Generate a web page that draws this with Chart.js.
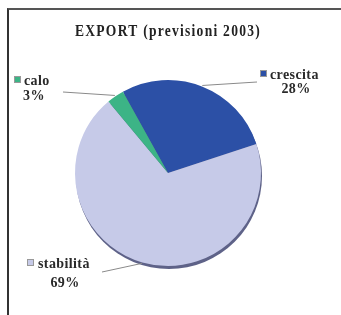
<!DOCTYPE html>
<html>
<head>
<meta charset="utf-8">
<script src="https://cdn.jsdelivr.net/npm/chart.js@4"></script>
<style>
html,body{margin:0;padding:0;background:#fff;}
#wrap{position:relative;width:341px;height:315px;}
#frame{position:absolute;left:7px;top:8px;right:0;bottom:0;border-top:2px solid #555;border-left:2px solid #333;pointer-events:none;}
canvas{position:absolute;left:0;top:0;}
</style>
</head>
<body>
<div id="wrap"><canvas id="c" width="341" height="315"></canvas><div id="frame"></div></div>
<script>
const categories = ['crescita', 'stabilità', 'calo'];
const values = [28, 69, 3];
const valueLabels = ['28%', '69%', '3%'];
const colors = ['#2c50a6', '#c6cae8', '#3cb486'];
const titleText = 'EXPORT (previsioni 2003)';

// label layout (anchor positions for legend-like callouts)
const labelLayout = [
  {sq:[260,70], text:[270,75], pct:[296,89], line:[257,82]},
  {sq:[27,259], text:[38,264], pct:[65,283], line:[102,272]},
  {sq:[14,76], text:[24,81], pct:[34,96], line:[63,92]}
];

const calloutPlugin = {
  id: 'callouts',
  beforeDraw(chart) {
    chart.ctx.letterSpacing = '1.5px';
  },
  beforeDatasetsDraw(chart) {
    const ctx = chart.ctx;
    ctx.letterSpacing = '0px';
    const arc = chart.getDatasetMeta(0).data[0];
    if (!arc) return;
    ctx.save();
    ctx.fillStyle = '#5e6288';
    ctx.beginPath();
    ctx.arc(arc.x + 1, arc.y + 3, arc.outerRadius, 0, Math.PI * 2);
    ctx.fill();
    ctx.restore();
  },
  afterDatasetsDraw(chart) {
    const ctx = chart.ctx;
    const meta = chart.getDatasetMeta(0);
    ctx.save();
    meta.data.forEach((a, i) => {
      const L = labelLayout[i];
      const mid = (a.startAngle + a.endAngle) / 2;
      const ex = a.x + Math.cos(mid) * (a.outerRadius + 1);
      const ey = a.y + Math.sin(mid) * (a.outerRadius + 1);
      ctx.strokeStyle = '#8a8a8a';
      ctx.lineWidth = 1;
      ctx.beginPath();
      ctx.moveTo(L.line[0], L.line[1]);
      ctx.lineTo(ex, ey);
      ctx.stroke();
      ctx.fillStyle = colors[i];
      ctx.fillRect(L.sq[0], L.sq[1], 7, 7);
      ctx.strokeStyle = '#999';
      ctx.strokeRect(L.sq[0] + 0.5, L.sq[1] + 0.5, 6, 6);
      ctx.fillStyle = '#2a2a2a';
      ctx.font = 'bold 14px "Liberation Serif", "DejaVu Serif", serif';
      ctx.letterSpacing = '0.4px';
      ctx.textBaseline = 'middle';
      ctx.textAlign = 'left';
      ctx.fillText(categories[i], L.text[0], L.text[1]);
      ctx.textAlign = 'center';
      ctx.fillText(valueLabels[i], L.pct[0], L.pct[1]);
    });
    ctx.restore();
  }
};

new Chart(document.getElementById('c'), {
  type: 'pie',
  data: {
    labels: categories,
    datasets: [{
      data: values,
      backgroundColor: colors,
      borderWidth: 0
    }]
  },
  options: {
    responsive: false,
    animation: false,
    rotation: -29,
    layout: {padding: {left: 75, right: 80, top: 0, bottom: 49}},
    plugins: {
      legend: {display: false},
      tooltip: {enabled: false},
      title: {
        display: true,
        text: titleText,
        color: '#222',
        font: {family: '"Liberation Serif", serif', size: 16, weight: 'bold', lineHeight: 1.2},
        padding: {top: 22.4, bottom: 38.4}
      }
    }
  },
  plugins: [calloutPlugin]
});
</script>
</body>
</html>
